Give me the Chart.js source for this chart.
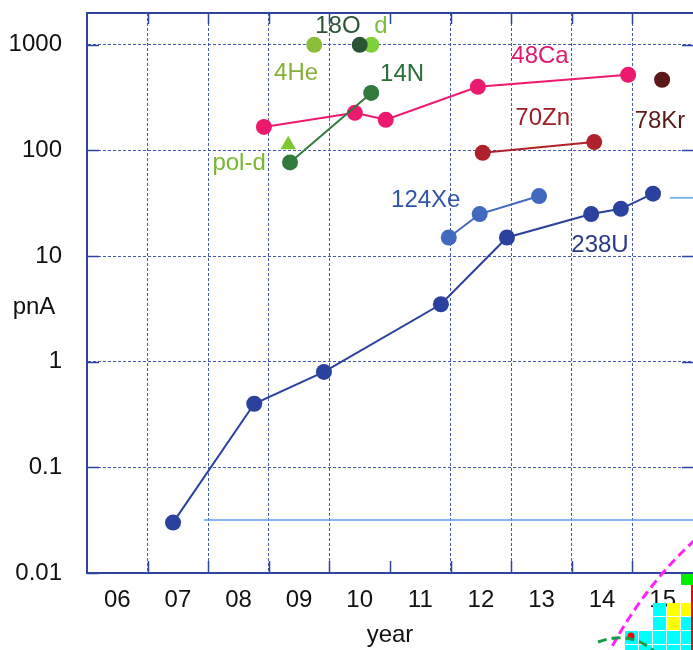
<!DOCTYPE html>
<html>
<head>
<meta charset="utf-8">
<script src="https://cdn.jsdelivr.net/npm/chart.js@4.4.1/dist/chart.umd.min.js"></script>
<style>
  html, body { margin: 0; padding: 0; background: #fff; }
  canvas { display: block; }
</style>
</head>
<body>
<canvas id="chart" width="693" height="650"></canvas>
<script>
// tick labels
const years = ['06', '07', '08', '09', '10', '11', '12', '13', '14', '15'];
const yTicks = [0.01, 0.1, 1, 10, 100, 1000];

// series (x = year, y = pnA)
const u238X = [6.92, 8.26, 9.41, 11.34, 12.43, 13.82, 14.31, 14.84];
const u238Y = [0.03, 0.4, 0.8, 3.5, 15, 25, 28, 39];
const xe124X = [11.47, 11.98, 12.96];
const xe124Y = [15, 25, 37];
const ca48X = [8.42, 9.92, 10.43, 11.95, 14.43];
const ca48Y = [167, 227, 195, 400, 520];
const zn70X = [12.03, 13.87];
const zn70Y = [95, 120];
const kr78X = [14.99];
const kr78Y = [467];
const n14X = [8.85, 10.19];
const n14Y = [77, 350];
const poldX = [8.82];
const poldY = [113];
const he4X = [9.25];
const he4Y = [1000];
const o18X = [10.0];
const o18Y = [1000];
const dX = [10.19];
const dY = [1000];
// stray light-blue lines from the source figure
const strayLowX = [7.43, 15.5];
const strayLowY = [0.0318, 0.0318];
const strayHighX = [15.12, 15.5];
const strayHighY = [35.6, 35.6];

// series labels
const labelTexts = ['18O', 'd', '4He', 'pol-d', '14N', '48Ca', '70Zn', '78Kr', '124Xe', '238U'];
const labelX = [9.64, 10.35, 8.95, 8.01, 10.70, 12.975, 13.02, 14.955, 11.09, 13.965];
const labelY = [1500, 1500, 531, 75, 520, 769, 199, 187, 34, 12.5];
const labelColors = ['#2a5535', '#7ac03a', '#88b038', '#78b830', '#2a6e38', '#e01870', '#a11c28', '#5a1a1a', '#3355a8', '#2a3a88'];

const FONT = "'Liberation Sans', Arial, sans-serif";
const axisColor = '#2e44a0';
const gridColor = 'rgba(50, 75, 175, 0.9)';

const pts = (xs, ys) => xs.map((x, i) => ({ x: x, y: ys[i] }));

function series(xs, ys, color, extra) {
    return Object.assign({
        data: pts(xs, ys),
        showLine: true,
        borderColor: color,
        backgroundColor: color,
        pointBackgroundColor: color,
        pointBorderWidth: 0,
        pointRadius: 8,
        borderWidth: 2
    }, extra || {});
}

// inner tick marks, top frame, "pnA" and series labels
const framePlugin = {
    id: 'frame',
    afterDraw(chart) {
        const { ctx, chartArea: a, scales: { x, y } } = chart;
        ctx.save();
        ctx.strokeStyle = axisColor;
        ctx.lineWidth = 2;
        ctx.beginPath();
        ctx.moveTo(a.left - 1, a.top);
        ctx.lineTo(a.right, a.top);
        ctx.stroke();

        ctx.lineWidth = 1.5;
        ctx.beginPath();
        for (let v = 6.5; v < 15.5; v++) {
            const px = Math.round(x.getPixelForValue(v)) + 0.5;
            ctx.moveTo(px, a.bottom);
            ctx.lineTo(px, a.bottom - 12);
            ctx.moveTo(px, a.top);
            ctx.lineTo(px, a.top + 11);
        }
        yTicks.forEach(v => {
            const py = Math.round(y.getPixelForValue(v)) + 0.5;
            ctx.moveTo(a.left, py);
            ctx.lineTo(a.left + 12, py);
            ctx.moveTo(a.right, py);
            ctx.lineTo(a.right - 11, py);
        });
        ctx.stroke();

        ctx.textAlign = 'center';
        ctx.textBaseline = 'middle';
        ctx.font = '24px ' + FONT;
        ctx.fillStyle = '#111';
        ctx.fillText('pnA', 34, 307);

        labelTexts.forEach((t, i) => {
            ctx.fillStyle = labelColors[i];
            ctx.fillText(t, x.getPixelForValue(labelX[i]), y.getPixelForValue(labelY[i]));
        });
        ctx.restore();
    }
};

// fragment of the neighbouring figure in the lower right corner
const cornerPlugin = {
    id: 'corner',
    afterDraw(chart) {
        const ctx = chart.ctx;
        ctx.save();
        const cols = [624, 638, 652, 666, 680];
        const rows = [602, 616, 630, 644];
        const cells = [
            [0, 0, 1, 2, 2], [0, 0, 1, 2, 1], [1, 1, 1, 1, 1], [1, 1, 1, 1, 1]
        ];
        rows.forEach((ry, r) => cols.forEach((cx, c) => {
            const k = cells[r][c];
            if (!k) return;
            ctx.fillStyle = k === 2 ? '#ffff00' : '#00ffff';
            ctx.fillRect(cx + 1, ry + 1, 13, 13);
        }));
        ctx.fillStyle = '#00ee00';
        ctx.fillRect(681, 574, 12, 11);
        ctx.fillStyle = '#ff0000';
        ctx.fillRect(691, 585, 2, 65);
        ctx.beginPath();
        ctx.arc(631, 636, 3.5, 0, Math.PI * 2);
        ctx.fill();

        ctx.lineWidth = 3;
        ctx.setLineDash([9, 5]);
        ctx.strokeStyle = '#ff22ff';
        ctx.beginPath();
        ctx.moveTo(695, 540);
        ctx.quadraticCurveTo(645, 585, 609, 652);
        ctx.stroke();
        ctx.strokeStyle = '#1a9a4a';
        ctx.beginPath();
        ctx.moveTo(598, 642);
        ctx.quadraticCurveTo(630, 630, 655, 652);
        ctx.stroke();
        ctx.restore();
    }
};

new Chart(document.getElementById('chart'), {
    type: 'scatter',
    data: {
        datasets: [
            series(u238X, u238Y, '#2b419e'),
            series(xe124X, xe124Y, '#4169bf'),
            series(n14X, n14Y, '#2f7a3c'),
            series(ca48X, ca48Y, '#ec1a6e'),
            series(zn70X, zn70Y, '#b0222b'),
            series(kr78X, kr78Y, '#5c1717'),
            series(poldX, poldY, '#7dc832', { pointStyle: 'triangle', pointRadius: 9 }),
            series(he4X, he4Y, '#8bbd3a'),
            series(o18X, o18Y, '#2a5535'),
            series(dX, dY, '#7fd03a'),
            series(strayLowX, strayLowY, '#5aa2e8', { pointRadius: 0, borderWidth: 1.5 }),
            series(strayHighX, strayHighY, '#5aa2e8', { pointRadius: 0, borderWidth: 1.5 })
        ]
    },
    options: {
        responsive: false,
        animation: false,
        layout: { autoPadding: false, padding: { top: 13, right: 0, left: 0, bottom: 0 } },
        plugins: {
            legend: { display: false },
            tooltip: { enabled: false }
        },
        scales: {
            x: {
                type: 'linear',
                min: 5.5,
                max: 15.5,
                afterBuildTicks: s => {
                    const t = [];
                    for (let v = 5.5; v <= 15.5; v += 0.5) t.push({ value: v });
                    s.ticks = t;
                },
                afterFit: s => {
                    s.height = 77;
                    s.paddingLeft = 0;
                    s.paddingRight = 0;
                },
                grid: {
                    drawTicks: false,
                    lineWidth: 1,
                    color: c => {
                        const v = c.tick && c.tick.value;
                        if (Number.isInteger(v) || v === 10.5 || v === 5.5 || v === 15.5) return 'transparent';
                        return gridColor;
                    }
                },
                border: { display: true, color: axisColor, width: 2, dash: [3, 2] },
                ticks: {
                    autoSkip: false,
                    maxRotation: 0,
                    padding: 13,
                    color: '#111',
                    font: { family: FONT, size: 24 },
                    callback: v => Number.isInteger(v) ? years[v - 6] : ''
                },
                title: {
                    display: true,
                    text: 'year',
                    color: '#111',
                    font: { family: FONT, size: 24, lineHeight: 1 },
                    padding: { top: 0, bottom: 3 }
                }
            },
            y: {
                type: 'logarithmic',
                min: 0.01,
                max: 2000,
                afterBuildTicks: s => { s.ticks = yTicks.map(v => ({ value: v })); },
                afterFit: s => {
                    s.width = 87;
                    s.paddingTop = 0;
                    s.paddingBottom = 0;
                },
                grid: { drawTicks: false, lineWidth: 1, color: gridColor },
                border: { display: true, color: axisColor, width: 2, dash: [3, 2] },
                ticks: {
                    padding: 25,
                    color: '#111',
                    font: { family: FONT, size: 24 },
                    callback: v => String(v)
                }
            }
        }
    },
    plugins: [framePlugin, cornerPlugin]
});
</script>
</body>
</html>
